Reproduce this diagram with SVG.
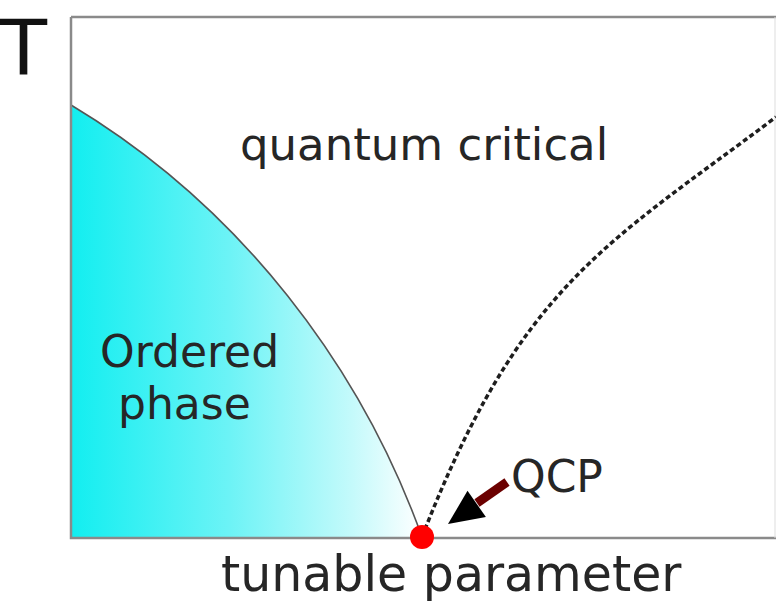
<svg xmlns="http://www.w3.org/2000/svg" width="776" height="605" viewBox="0 0 776 605">
<defs>
<linearGradient id="ordGrad" x1="71" y1="0" x2="422" y2="0" gradientUnits="userSpaceOnUse">
<stop offset="0" stop-color="#12eef0"/>
<stop offset="0.45" stop-color="#6cf3f6"/>
<stop offset="0.8" stop-color="#c4fafb"/>
<stop offset="1" stop-color="#ffffff"/>
</linearGradient>
<style>
.lbl{font-family:"DejaVu Sans","Liberation Sans",sans-serif;fill:#262626;}
.axis{fill:none;stroke:#8a8a8a;stroke-width:2.5;}
</style>
</defs>
<rect x="0" y="0" width="776" height="605" fill="#ffffff"/>
<g id="ordered-phase">
<path d="M71,105 C241,207 361,367 422,537 L71,537 Z" fill="url(#ordGrad)"/>
<path d="M71,105 C241,207 361,367 422,537" fill="none" stroke="#555" stroke-width="1.6"/>
<text class="lbl" x="100" y="367" font-size="44">Ordered</text>
<text class="lbl" x="118" y="419" font-size="44">phase</text>
</g>
<g id="frame">
<path class="axis" d="M71,17 L71,538 L776,538"/>
<path class="axis" d="M71,17 L776,17" stroke-width="2"/>
<line x1="775" y1="17" x2="775" y2="538" stroke="#dddddd" stroke-width="1"/>
</g>
<g id="connectors">
<path d="M422,537 C520,285 606,245 776,117" fill="none" stroke="#1e1e1e" stroke-width="3.5" stroke-dasharray="5 3"/>
<line x1="507" y1="482" x2="477" y2="503" stroke="#6b0000" stroke-width="9"/>
<polygon points="448,524 485.9,517 467.5,490.8" fill="#000"/>
</g>
<g id="quantum-critical">
<text class="lbl" x="240" y="160" font-size="45">quantum critical</text>
</g>
<g id="qcp">
<circle cx="422" cy="537" r="12" fill="#ff0000"/>
<text class="lbl" x="511" y="492" font-size="44">QCP</text>
</g>
<g id="labels">
<text x="0" y="75" font-size="77" font-family="DejaVu Sans, Liberation Sans, sans-serif" fill="#111">T</text>
<text class="lbl" x="221" y="591" font-size="49">tunable parameter</text>
</g>
</svg>
